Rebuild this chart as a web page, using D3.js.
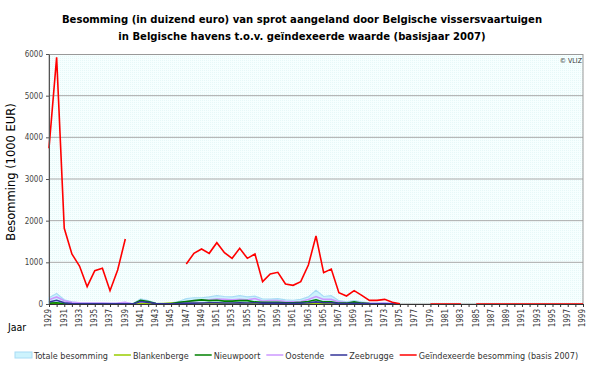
<!DOCTYPE html>
<html><head><meta charset="utf-8">
<script src="https://cdn.jsdelivr.net/npm/d3@7"></script>
<style>body{margin:0;background:#fff}svg{display:block}text{font-family:"DejaVu Sans Condensed","Liberation Sans",sans-serif}</style>
</head><body><svg id="c" width="600" height="368"></svg>
<script>
const years = d3.range(1929, 2000);
const N = null;
// Geïndexeerde besomming (basis 2007)
const indexed = [3737,5920,1817,1200,912,416,800,856,320,816,1560,
 N,N,N,N,N,N,N,
 960,1216,1320,1216,1472,1232,1096,1336,1096,1200,536,720,760,480,448,536,936,1632,752,840,272,192,320,208,88,88,112,40,5,
 N,N,N,
 0,0,0,0,0,N,0,0,0,0,0,0,0,0,0,0,0,0,0,0,0];
const totale = [150,250,100,50,30,25,20,20,15,20,40,
 5,120,80,20,10,30,60,
 130,150,150,170,200,180,170,200,170,190,120,120,130,100,90,110,170,330,180,200,80,50,80,50,30,20,30,10,0,
 N,N,N,N,N,N,N,N,N,N,N,N,N,N,N,N,N,N,N,N,N,N,N,N];
const blankenberge = [5,5,3,2,1,1,1,1,1,1,1,
 0,5,5,2,10,20,15,
 10,10,8,8,8,8,8,8,8,8,5,5,5,5,5,5,5,10,5,5,2,2,2,2,1,1,1,0,0,
 N,N,N,N,N,N,N,N,N,N,N,N,N,N,N,N,N,N,N,N,N,N,N,N];
const nieuwpoort = [20,30,10,5,3,2,2,2,2,2,2,
 0,90,60,10,2,5,40,
 60,80,100,80,90,70,70,80,80,50,40,40,40,30,30,40,60,100,50,50,20,20,50,20,10,5,5,2,0,
 N,N,N,N,N,N,N,N,N,N,N,N,N,N,N,N,N,N,N,N,N,N,N,N];
const oostende = [100,170,80,40,30,25,20,20,15,20,40,
 2,30,20,10,5,5,20,
 60,80,90,100,120,110,100,110,100,130,70,80,80,60,50,60,110,180,110,110,50,30,40,30,20,15,20,8,0,
 N,N,N,N,N,N,N,N,N,N,N,N,N,N,N,N,N,N,N,N,N,N,N,N];
const zeebrugge = [50,90,30,10,5,5,5,5,5,5,5,
 2,60,40,10,2,2,10,
 20,20,25,30,30,25,25,30,25,30,20,20,20,15,15,20,30,50,30,30,15,10,15,10,5,5,5,2,0,
 N,N,N,N,N,N,N,N,N,N,N,N,N,N,N,N,N,N,N,N,N,N,N,N];
const yTicks = [0,1000,2000,3000,4000,5000,6000];
const xTickLabels = years.filter((y,i)=>i%2===0);

const svg = d3.select("#c");
const L=49, R=583, T=54, B=304;
const x = d3.scaleLinear().domain([1929,1999]).range([L,R]);
const y = d3.scaleLinear().domain([0,6000]).range([B,T]);

// title
const title = svg.append("text").attr("text-anchor","middle")
 .style("font-size","11.2px").style("font-weight","bold").attr("fill","#000");
title.append("tspan").attr("x",302).attr("y",23).text("Besomming (in duizend euro) van sprot aangeland door Belgische vissersvaartuigen");
title.append("tspan").attr("x",302).attr("y",40).text("in Belgische havens t.o.v. geïndexeerde waarde (basisjaar 2007)");

// plot background
const defs = svg.append("defs");
const pat = defs.append("pattern").attr("id","dots").attr("width",2).attr("height",2).attr("patternUnits","userSpaceOnUse");
pat.append("rect").attr("width",2).attr("height",2).attr("fill","#f6ffff");
pat.append("rect").attr("width",1).attr("height",1).attr("fill","#e6f8f8");
svg.append("rect").attr("x",L).attr("y",T).attr("width",R-L).attr("height",B-T).attr("fill","url(#dots)");

// gridlines
svg.append("g").selectAll("line").data(yTicks.filter(d=>d>0&&d<6000)).join("line")
 .attr("x1",L).attr("x2",R).attr("y1",d=>y(d)).attr("y2",d=>y(d)).attr("stroke","#aaaaaa").attr("stroke-width",1);
// border
svg.append("rect").attr("x",L).attr("y",T+0.5).attr("width",R-L).attr("height",B-T-0.5).attr("fill","none").attr("stroke","#999").attr("stroke-width",1);

// total area
const area = d3.area().defined((d,i)=>totale[i]!=null).x((d,i)=>x(years[i])).y0(y(0)).y1(d=>y(d));
svg.append("path").datum(totale).attr("d",area).attr("fill","#cdf3fd").attr("stroke","#a8dcf5").attr("stroke-width",1.2);

const line = d3.line().defined(d=>d!=null).x((d,i)=>x(years[i])).y(d=>y(d));
const series = [
 [oostende,"#cc99ff"],
 [blankenberge,"#99cc00"],
 [nieuwpoort,"#008000"],
 [zeebrugge,"#333399"],
 [indexed,"#ff0000"]
];
series.forEach(([data,col])=>{
 svg.append("path").datum(data).attr("d",line).attr("fill","none").attr("stroke",col).attr("stroke-width",1.6);
});

// axes
const ya = svg.append("g").attr("transform",`translate(${L},0)`)
 .call(d3.axisLeft(y).tickValues(yTicks).tickSize(3).tickSizeOuter(0).tickFormat(d3.format("d")));
ya.select(".domain").attr("stroke","#555");
ya.selectAll(".tick line").attr("stroke","#555");
ya.selectAll("text").style("font-size","8px").attr("fill","#444").style("font-family","'DejaVu Sans Condensed',sans-serif");

const xa = svg.append("g").attr("transform",`translate(0,${B})`)
 .call(d3.axisBottom(x).tickValues(years).tickSize(3).tickSizeOuter(0).tickFormat(d=>xTickLabels.includes(d)?String(d):""));
xa.select(".domain").attr("stroke","#333");
xa.selectAll(".tick line").attr("stroke","#333");
xa.selectAll("text").style("font-size","8px").attr("fill","#333")
 .attr("transform","rotate(-90)").attr("text-anchor","end").attr("x",-5).attr("y",-1).attr("dy","0.35em");

// axis titles
svg.append("text").attr("transform","translate(15,172) rotate(-90)").attr("text-anchor","middle")
 .style("font-size","11.5px").style("font-family","'DejaVu Sans',sans-serif").attr("fill","#000").text("Besomming (1000 EUR)");
svg.append("text").attr("x",8).attr("y",331).style("font-size","10.5px").attr("fill","#000").text("Jaar");
svg.append("text").attr("x",582).attr("y",63).attr("text-anchor","end").style("font-size","7px").attr("fill","#333").text("© VLIZ");

// legend
const legend = [
 ["Totale besomming","area","#cdf3fd","#a8dcf5"],
 ["Blankenberge","line","#99cc00"],
 ["Nieuwpoort","line","#008000"],
 ["Oostende","line","#cc99ff"],
 ["Zeebrugge","line","#333399"],
 ["Geïndexeerde besomming (basis 2007)","line","#ff0000"]
];
const lg = svg.append("g").attr("transform","translate(15,355)");
let lx = 0;
legend.forEach(([name,type,c1,c2])=>{
 if(type==="area") lg.append("rect").attr("x",lx).attr("y",-3).attr("width",17).attr("height",6).attr("fill",c1).attr("stroke",c2);
 else lg.append("line").attr("x1",lx).attr("x2",lx+17).attr("y1",0).attr("y2",0).attr("stroke",c1).attr("stroke-width",1.5);
 const t = lg.append("text").attr("x",lx+19).attr("y",3.5).style("font-size","9px").attr("fill","#333").text(name);
 lx += 19 + t.node().getComputedTextLength() + 6;
});
</script></body></html>
